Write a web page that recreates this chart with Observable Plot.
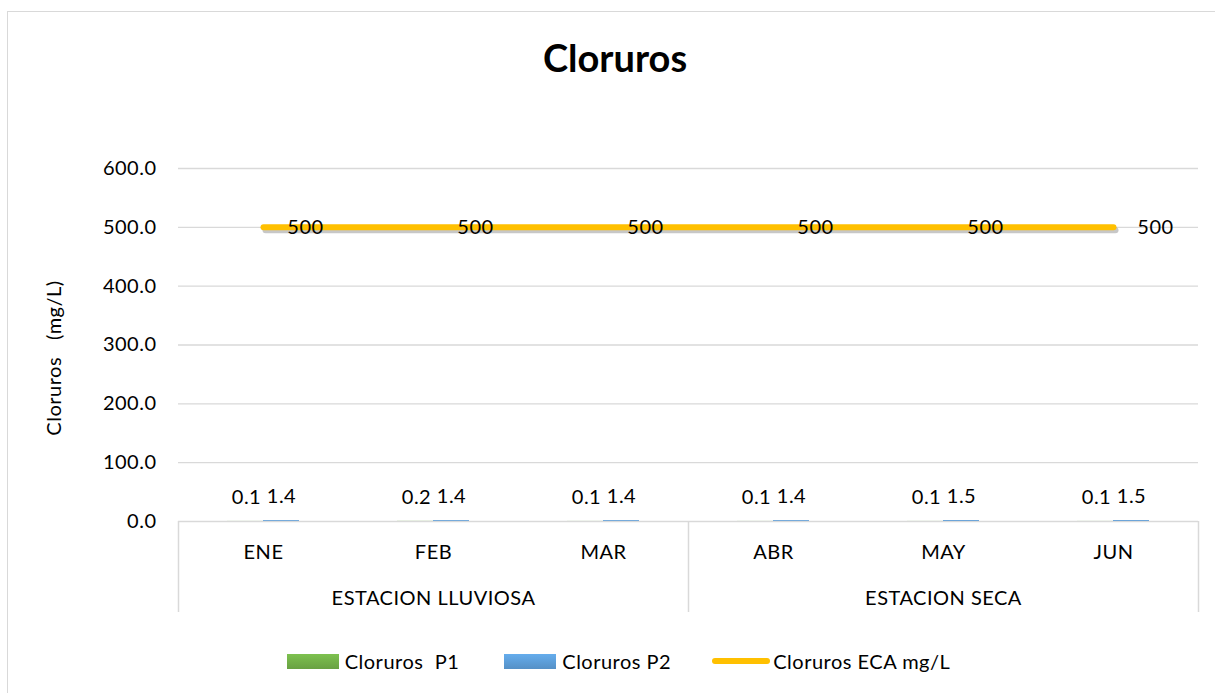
<!DOCTYPE html>
<html>
<head>
<meta charset="utf-8">
<script src="https://cdn.jsdelivr.net/npm/d3@7"></script>
<script src="https://cdn.jsdelivr.net/npm/@observablehq/plot@0.6"></script>
<style>
  body { margin: 0; background: #fff; overflow: hidden; font-family: Lato, "Open Sans", sans-serif; color: #000; }
  #wrap { position: relative; width: 1215px; height: 693px; overflow: hidden; background: #fff; }
  #border { position: absolute; left: 7px; top: 11px; width: 1400px; height: 900px; border: 1.5px solid #d9d9d9; box-sizing: border-box; }
  #title { position: absolute; left: 15px; top: 34px; width: 1200px; height: 46px; line-height: 46px; text-align: center; font-size: 38px; font-weight: 700; }
  #chart { position: absolute; left: 0; top: 100px; }
  #legend { position: absolute; left: 11px; top: 648px; width: 1215px; height: 26px; display: flex; justify-content: center; align-items: center; font-size: 20px; letter-spacing: 0.5px; }
  .item { display: flex; align-items: center; white-space: pre; }
  .sw { display: inline-block; }
</style>
</head>
<body>
<div id="wrap">
  <div id="border"></div>
  <div id="title"></div>
  <div id="chart"></div>
  <div id="legend"></div>
</div>
<script>
const title = "Cloruros";
const yTitle = "Cloruros\u00a0\u00a0 (mg/L)";
const months = ["ENE", "FEB", "MAR", "ABR", "MAY", "JUN"];
const seasons = ["ESTACION LLUVIOSA", "ESTACION LLUVIOSA", "ESTACION LLUVIOSA", "ESTACION SECA", "ESTACION SECA", "ESTACION SECA"];
const p1 = [0.1, 0.2, 0.1, 0.1, 0.1, 0.1];
const p2 = [1.4, 1.4, 1.4, 1.4, 1.5, 1.5];
const eca = [500, 500, 500, 500, 500, 500];
const yTicks = [0, 100, 200, 300, 400, 500, 600];
const seriesNames = ["Cloruros  P1", "Cloruros P2", "Cloruros ECA mg/L"];
const seriesColors = ["#70ad47", "#5b9bd5", "#ffc000"];
const seriesKinds = ["bar", "bar", "line"];

const rows = months.map((m, i) => ({month: m, season: seasons[i], p1: p1[i], p2: p2[i], eca: eca[i]}));
const groups = d3.groups(rows, d => d.season).map(([name, rs]) => ({
  name, first: rs[0].month, mid: rs[Math.floor(rs.length / 2)].month, last: rs[rs.length - 1].month
}));
const groupStarts = groups.map(g => g.first);
const lastMonth = groups[groups.length - 1].last;

document.getElementById("title").textContent = title;

const grey = "#d9d9d9";
const fmt1 = d3.format(".1f");
const fs = 20;

const plot = Plot.plot({
  width: 1215,
  height: 540,
  marginTop: 68,
  marginBottom: 119,
  marginLeft: 178,
  marginRight: 17,
  style: {fontFamily: "Lato, 'Open Sans', sans-serif", fontSize: fs + "px", letterSpacing: "0.5px", color: "#000", background: "transparent"},
  x: {type: "band", domain: months, padding: 0, axis: null},
  y: {domain: [0, 600], axis: null},
  marks: [
    Plot.gridY(yTicks.filter(t => t > 0), {stroke: grey, strokeOpacity: 1, strokeWidth: 1.3}),
    Plot.ruleY([0], {stroke: grey, strokeWidth: 1.5}),
    Plot.axisY(yTicks, {tickSize: 0, tickPadding: 22, tickFormat: fmt1, label: null, fontSize: fs}),
    Plot.text([yTitle], {frameAnchor: "left", textAnchor: "middle", rotate: -90, dx: -124, dy: 13, fontSize: fs}),
    // separators of the category axis
    Plot.ruleX(groupStarts, {x: d => d, y1: d => 0, y2: d => 0, dx: -85, insetBottom: -91, stroke: grey, strokeWidth: 1.5}),
    Plot.ruleX([lastMonth], {x: d => d, y1: d => 0, y2: d => 0, dx: 85, insetBottom: -91, stroke: grey, strokeWidth: 1.5}),
    // bars
    Plot.barY(rows, {x: "month", y: "p1", fill: seriesColors[0], insetLeft: 49, insetRight: 85}),
    Plot.barY(rows, {x: "month", y: "p2", fill: seriesColors[1], insetLeft: 85, insetRight: 49}),
    Plot.text(rows, {x: "month", y: "p1", text: d => fmt1(d.p1), dx: -17, dy: -24, fontSize: fs}),
    Plot.text(rows, {x: "month", y: "p2", text: d => fmt1(d.p2), dx: 18, dy: -24, fontSize: fs}),
    // ECA line with soft shadow
    Plot.lineY(rows, {x: "month", y: "eca", stroke: "#000", strokeOpacity: 0.22, strokeWidth: 6, dx: 2, dy: 3, strokeLinecap: "round"}),
    Plot.lineY(rows, {x: "month", y: "eca", stroke: seriesColors[2], strokeWidth: 6, strokeLinecap: "round"}),
    Plot.text(rows, {x: "month", y: "eca", text: d => String(d.eca), dx: 42, fontSize: fs}),
    // category labels
    Plot.text(rows, {x: "month", text: "month", frameAnchor: "bottom", dy: 37, fontSize: fs}),
    Plot.text(groups, {x: "mid", text: "name", frameAnchor: "bottom", dy: 83, fontSize: fs})
  ]
});
document.getElementById("chart").appendChild(plot);

// legend
const legend = d3.select("#legend");
seriesNames.forEach((name, i) => {
  const item = legend.append("div").attr("class", "item").style("margin-left", i === 0 ? "0px" : (i === 1 ? "45px" : "41px"));
  if (seriesKinds[i] === "bar") {
    const c = d3.color(seriesColors[i]);
    item.append("span").attr("class", "sw")
      .style("width", "52px").style("height", "15px")
      .style("background", `linear-gradient(${c.brighter(0.3)}, ${c.darker(0.2)})`)
      .style("margin-right", "6px");
  } else {
    item.append("span").attr("class", "sw")
      .style("width", "58px").style("height", "6px").style("border-radius", "3px")
      .style("background", seriesColors[i])
      .style("margin-right", "3px");
  }
  item.append("span").text(name);
});
</script>
</body>
</html>
